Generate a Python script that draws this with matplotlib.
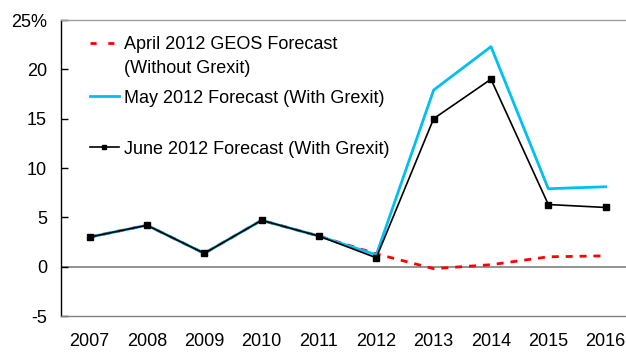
import matplotlib.pyplot as plt
from matplotlib.lines import Line2D

plt.rcParams['font.family'] = ['Liberation Sans', 'DejaVu Sans']

# 実質成長率の予測（%）
years = [2007, 2008, 2009, 2010, 2011, 2012, 2013, 2014, 2015, 2016]
april = [3.0, 4.2, 1.35, 4.7, 3.1, 1.3, -0.2, 0.2, 1.0, 1.1]
may = [3.0, 4.2, 1.35, 4.7, 3.1, 1.2, 17.9, 22.3, 7.9, 8.1]
june = [3.0, 4.2, 1.35, 4.7, 3.1, 0.9, 15.0, 19.0, 6.3, 6.0]
yticks = [-5, 0, 5, 10, 15, 20, 25]
ytick_labels = ["-5", "0", "5", "10", "15", "20", "25%"]

red = "#ff0000"
cyan = "#00bff3"

fig = plt.figure(figsize=(6.26, 3.53), dpi=100)
ax = fig.add_axes([0.0974, 0.1048, 0.9026, 0.8385])

ax.plot(years, april, color=red, lw=2.0, dashes=(2.5, 2.5), zorder=2)
ax.plot(years, may, color=cyan, lw=2.0, zorder=3)
ax.plot(years, june, color="black", lw=1.2, marker="s", ms=4, zorder=4)

ax.axhline(0, color="#808080", lw=1.2, zorder=1)

ax.set_xlim(2006.5, 2016.355)
ax.set_ylim(-5, 25)
ax.set_xticks(years)
ax.set_yticks(yticks)
ax.set_yticklabels(ytick_labels)
ax.tick_params(axis="x", length=0, pad=12, labelsize=13)
ax.tick_params(axis="y", direction="in", length=5, width=1, pad=10, labelsize=13)

ax.spines["right"].set_visible(False)
ax.spines["top"].set_color("#a0a0a0")
ax.spines["bottom"].set_color("#808080")
ax.spines["left"].set_color("black")
for s in ("top", "bottom", "left"):
    ax.spines[s].set_linewidth(1.0)

# 凡例（3つに分けて配置）
blank = Line2D([], [], color="none")
h_red = Line2D([], [], color=red, lw=2.0, dashes=(2.2, 4.2))
h_cyan = Line2D([], [], color=cyan, lw=2.0)
h_black = Line2D([], [], color="black", lw=1.2, marker="s", ms=3.5)

common = dict(frameon=False, fontsize=13, handlelength=1.6, handletextpad=0.3,
              borderpad=0, borderaxespad=0, loc="center left")
leg1 = ax.legend([h_red, blank], ["April 2012 GEOS Forecast", "(Without Grexit)"],
                 bbox_to_anchor=(0.051, 0.877), labelspacing=0.35, **common)
ax.add_artist(leg1)
leg2 = ax.legend([h_cyan], ["May 2012 Forecast (With Grexit)"],
                 bbox_to_anchor=(0.051, 0.736), **common)
ax.add_artist(leg2)
ax.legend([h_black], ["June 2012 Forecast (With Grexit)"],
          bbox_to_anchor=(0.051, 0.564), **common)

fig.savefig("out.png", dpi=100)
